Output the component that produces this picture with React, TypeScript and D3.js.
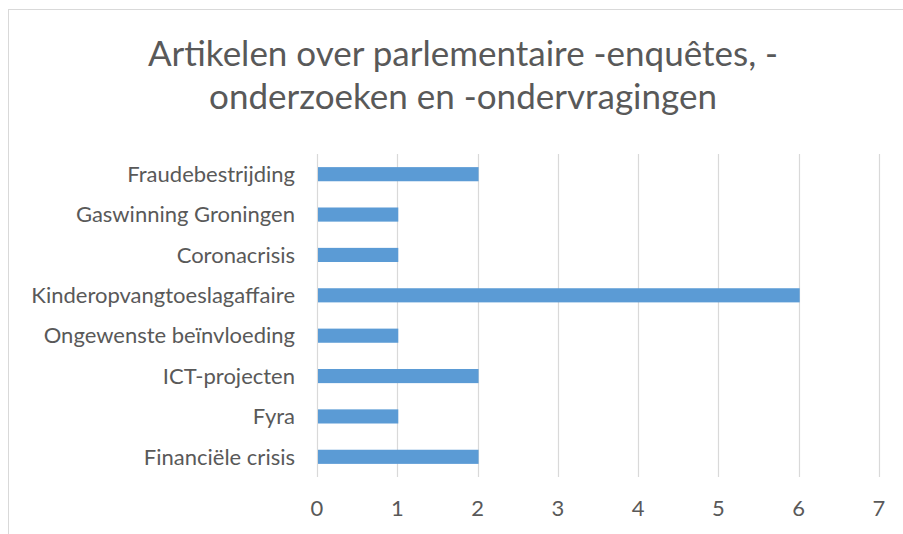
import React, { useRef, useEffect } from "react";
import * as d3 from "d3";

const titleLines = ["Artikelen over parlementaire -enquêtes, -", "onderzoeken en -ondervragingen"];
const categories = [
  "Fraudebestrijding",
  "Gaswinning Groningen",
  "Coronacrisis",
  "Kinderopvangtoeslagaffaire",
  "Ongewenste beïnvloeding",
  "ICT-projecten",
  "Fyra",
  "Financiële crisis",
];
const values = [2, 1, 1, 6, 1, 2, 1, 2];
const xTicks = [0, 1, 2, 3, 4, 5, 6, 7];

const App = () => {
  const svgRef = useRef<SVGSVGElement>(null);

  useEffect(() => {
    const w = 903;
    const h = 534;
    const font = "Lato, sans-serif";
    const textColor = "#595959";
    const gridColor = "#d9d9d9";

    const svg = d3.select(svgRef.current).attr("width", w).attr("height", h);
    svg.selectAll("*").remove();

    // chart frame (cropped at right/bottom)
    svg
      .append("rect")
      .attr("x", 8.5)
      .attr("y", 9.5)
      .attr("width", 1200)
      .attr("height", 1200)
      .attr("fill", "white")
      .attr("stroke", gridColor);

    // title
    svg
      .append("g")
      .selectAll("text")
      .data(titleLines)
      .join("text")
      .attr("x", 463)
      .attr("y", (d, i) => 66 + i * 43)
      .attr("text-anchor", "middle")
      .attr("font-family", font)
      .attr("font-size", 35)
      .attr("fill", textColor)
      .text((d) => d);

    // scales
    const xScale = d3.scaleLinear().domain([0, 7]).range([317, 879]);
    const yScale = d3
      .scaleBand()
      .domain(categories)
      .range([154, 477])
      .paddingInner(0.65)
      .paddingOuter(0.325);

    // gridlines
    svg
      .append("g")
      .selectAll("line")
      .data(xTicks)
      .join("line")
      .attr("x1", (d) => Math.round(xScale(d)) + 0.5)
      .attr("x2", (d) => Math.round(xScale(d)) + 0.5)
      .attr("y1", 154)
      .attr("y2", 477)
      .attr("stroke", gridColor)
      .attr("stroke-width", 1.2);

    // bars
    svg
      .append("g")
      .selectAll("rect")
      .data(values)
      .join("rect")
      .attr("x", xScale(0) + 1)
      .attr("y", (d, i) => yScale(categories[i]) as number)
      .attr("width", (d) => xScale(d) - xScale(0))
      .attr("height", yScale.bandwidth())
      .attr("fill", "#5b9bd5");

    // x tick labels
    svg
      .append("g")
      .selectAll("text")
      .data(xTicks)
      .join("text")
      .attr("x", (d) => xScale(d))
      .attr("y", 508)
      .attr("dy", "0.35em")
      .attr("text-anchor", "middle")
      .attr("font-family", font)
      .attr("font-size", 22)
      .attr("fill", textColor)
      .text((d) => d);

    // category labels
    svg
      .append("g")
      .selectAll("text")
      .data(categories)
      .join("text")
      .attr("x", 295)
      .attr("y", (d) => (yScale(d) as number) + yScale.bandwidth() / 2)
      .attr("dy", "0.35em")
      .attr("text-anchor", "end")
      .attr("font-family", font)
      .attr("font-size", 22)
      .attr("fill", textColor)
      .text((d) => d);
  }, []);

  return (
    <div style={{ position: "absolute", left: 0, top: 0 }}>
      <svg ref={svgRef} style={{ display: "block" }}></svg>
    </div>
  );
};

export default App;
